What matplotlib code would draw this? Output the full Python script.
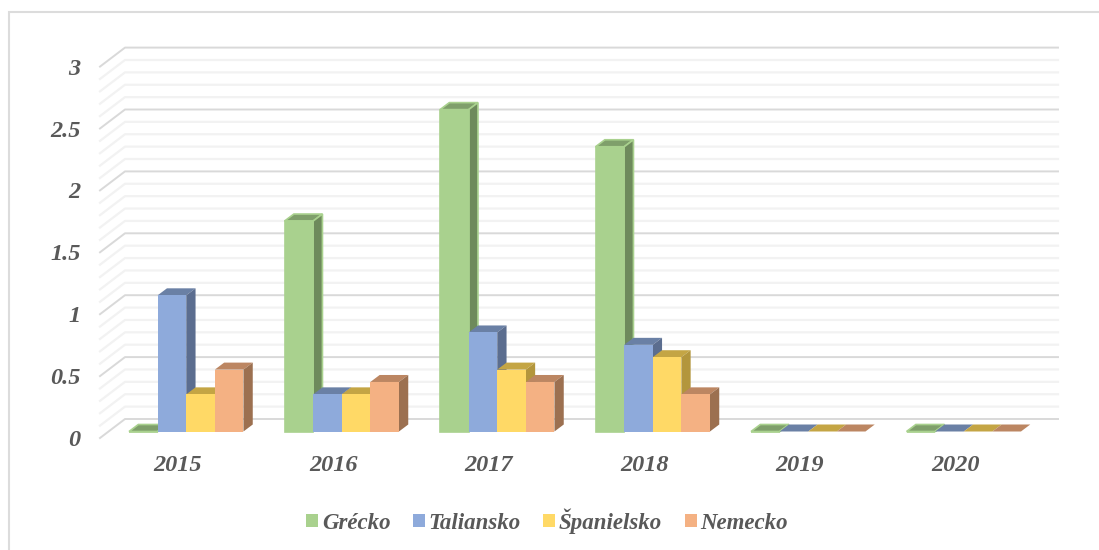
"""3D-look clustered columns drawn on a flat matplotlib axes."""

import matplotlib

matplotlib.use("Agg")
import matplotlib.pyplot as plt
from matplotlib.patches import Patch, Rectangle

plt.rcParams["font.family"] = ["Liberation Serif", "DejaVu Serif"]

years = ["2015", "2016", "2017", "2018", "2019", "2020"]
grecko = [0, 1.7, 2.6, 2.3, 0, 0]
taliansko = [1.1, 0.3, 0.8, 0.7, 0, 0]
spanielsko = [0.3, 0.3, 0.5, 0.6, 0, 0]
nemecko = [0.5, 0.4, 0.4, 0.3, 0, 0]

series_names = ["Grécko", "Taliansko", "Španielsko", "Nemecko"]
series_values = [grecko, taliansko, spanielsko, nemecko]
y_labels = ["0", "0.5", "1", "1.5", "2", "2.5", "3"]
y_major = [0, 0.5, 1, 1.5, 2, 2.5, 3]
y_minor = [0.1, 0.2, 0.3, 0.4, 0.6, 0.7, 0.8, 0.9, 1.1, 1.2, 1.3, 1.4,
           1.6, 1.7, 1.8, 1.9, 2.1, 2.2, 2.3, 2.4, 2.6, 2.7, 2.8, 2.9]

# (front, top, side)
colors = [
    ("#A9D18E", "#7F9F6B", "#6E8A5C"),
    ("#8EAADB", "#6A80A5", "#5B6D8F"),
    ("#FFD966", "#C4A544", "#B3963C"),
    ("#F4B183", "#BC8662", "#9C7050"),
]

# plot scale in pixels
PX_X = 155.5
PX_Y = 123.8
# wall and column offsets of the fake depth, data units
WALL_DX, WALL_DY = 25 / PX_X, 19 / PX_Y
SET_DX, SET_DY = 8.5 / PX_X, 6.5 / PX_Y
BAR_DX, BAR_DY = 9.3 / PX_X, 7 / PX_Y
BAR_W = 28.6 / PX_X

W, H = 1099, 550
fig = plt.figure(figsize=(W / 100, H / 100), dpi=100)
# only the top and left edges of the chart frame are in the picture
fig.patches.append(Rectangle((9 / W, 1 - 570 / H), 1120 / W, 558 / H, transform=fig.transFigure,
                             facecolor="white", edgecolor="#DCDCDC", linewidth=1.5, zorder=-1))

left, right, top, bottom = 100, 1058, 47.5, 438
ax = fig.add_axes([left / W, 1 - bottom / H, (right - left) / W, (bottom - top) / H])
ax.patch.set_visible(False)
ax.set_xlim(-0.5, -0.5 + (right - left) / PX_X)
ax.set_ylim(0, (bottom - top) / PX_Y)
for s in ax.spines.values():
    s.set_visible(False)

x_start = -0.5
x_end = x_start + 6
for v in y_minor:
    ax.plot([x_start, x_start + WALL_DX, x_end + WALL_DX], [v, v + WALL_DY, v + WALL_DY],
            color="#F2F2F2", lw=1.6, zorder=1, clip_on=False)
for v in y_major:
    ax.plot([x_start, x_start + WALL_DX, x_end + WALL_DX], [v, v + WALL_DY, v + WALL_DY],
            color="#D9D9D9", lw=1.4, zorder=2, clip_on=False)

for i, values in enumerate(series_values):
    front, top_c, side = colors[i]
    edge = front if i == 0 else "none"
    lw = 1.2 if i == 0 else 0
    for j, v in enumerate(values):
        x0 = j + SET_DX + (i - 2) * BAR_W
        x1 = x0 + BAR_W
        base = SET_DY
        z = 3 + j * 10 + i
        # top face
        ax.fill([x0, x1, x1 + BAR_DX, x0 + BAR_DX],
                [base + v, base + v, base + v + BAR_DY, base + v + BAR_DY],
                facecolor=top_c, edgecolor=edge, linewidth=lw, zorder=z)
        # side face
        ax.fill([x1, x1 + BAR_DX, x1 + BAR_DX, x1],
                [base, base + BAR_DY, base + v + BAR_DY, base + v],
                facecolor=side, edgecolor=edge, linewidth=lw, zorder=z)
        ax.bar(x0, v, BAR_W, bottom=base, align="edge", color=front,
               edgecolor=edge, linewidth=lw, zorder=z)

tick_font = {"fontsize": 17.5, "fontweight": "bold", "fontstyle": "italic", "color": "#595959"}
ax.set_xticks(range(len(years)), years, **tick_font)
ax.set_yticks(y_major, y_labels, **tick_font)
ax.tick_params(axis="x", length=0, pad=12)
ax.tick_params(axis="y", length=0, pad=14)

handles = [Patch(facecolor=c[0], edgecolor="none") for c in colors]
fig.legend(handles, series_names, loc="center", bbox_to_anchor=(547 / W, 1 - 521 / H), ncol=4, frameon=False,
           handlelength=0.52, handleheight=0.52, handletextpad=0.15, columnspacing=0.99,
           prop={"size": 16.5, "weight": "bold", "style": "italic"}, labelcolor="#595959")

fig.savefig("out.png", dpi=100)
